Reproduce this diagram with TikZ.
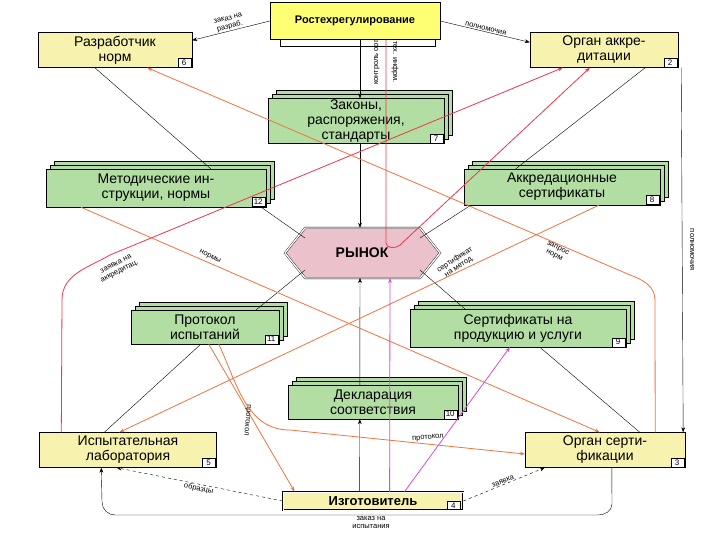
\documentclass[tikz,border=0pt]{standalone}
\usepackage{fontspec}
\setmainfont{Liberation Sans}
\usetikzlibrary{shadows,calc,arrows.meta}
\definecolor{yel}{rgb}{0.97,0.95,0.68}
\definecolor{ryel}{rgb}{1,1,0.45}
\definecolor{grn}{rgb}{0.70,0.87,0.64}
\definecolor{pnk}{rgb}{0.92,0.76,0.80}
\definecolor{org}{rgb}{0.95,0.45,0.25}
\definecolor{rd}{rgb}{0.95,0.2,0.3}
\definecolor{mag}{rgb}{0.85,0.3,0.85}
\begin{document}
\begin{tikzpicture}[x=1pt,y=-1pt,
  ybox/.style={draw, fill=yel, align=center, inner sep=1pt, font=\fontsize{14}{15}\selectfont},
  gbox/.style={draw, fill=grn, align=center, inner sep=1pt, font=\fontsize{14}{15}\selectfont,
     double copy shadow={shadow xshift=4pt, shadow yshift=4pt, fill=grn, draw}},
  tag/.style={draw, fill=white, inner sep=0.5pt, minimum width=13, minimum height=9, font=\fontsize{8}{8}\selectfont},
  lbl/.style={font=\fontsize{7.5}{8}\selectfont, inner sep=1pt, align=center},
  ar/.style={-{Stealth[length=5pt]}},
  ol/.style={draw=org, line width=0.8pt},
  rl/.style={draw=rd, line width=0.8pt},
  ml/.style={draw=mag, line width=0.8pt}]
\useasboundingbox (0,0) rectangle (720,540);
\fill[white] (0,0) rectangle (720,540);
% nodes
\draw[fill=white] (280,10) rectangle (435,46);
\node[draw, fill=ryel, minimum width=170, minimum height=37, font=\bfseries\fontsize{11}{12}\selectfont] (rost) at (355,21) {Ростехрегулирование};
\node[ybox, minimum width=154, minimum height=35] (razr) at (115,50) {Разработчик\\норм};
\node[ybox, minimum width=148, minimum height=35] (akkr) at (604,50) {Орган аккре-\\дитации};
\node[gbox, minimum width=176, minimum height=44] (zak) at (356,121) {Законы,\\распоряжения,\\стандарты};
\node[gbox, minimum width=220, minimum height=38] (met) at (156,188) {Методические ин-\\струкции, нормы};
\node[gbox, minimum width=196, minimum height=36] (acert) at (562,187) {Аккредационные\\сертификаты};
\node[minimum width=155, minimum height=50] (ryn) at (362,253) {};
\draw[double, double distance=1.2pt, fill=pnk] (285,253) -- (305,228) -- (420,228) -- (440,253) -- (420,278) -- (305,278) -- cycle;
\node[font=\bfseries\fontsize{14}{14}\selectfont] at (362,253) {РЫНОК};
\node[gbox, minimum width=148, minimum height=34] (prot) at (205,327) {Протокол\\испытаний};
\node[gbox, minimum width=216, minimum height=38] (sprod) at (518,328) {Сертификаты на\\продукцию и услуги};
\node[gbox, minimum width=170, minimum height=34] (decl) at (373,402) {Декларация\\соответствия};
\node[ybox, minimum width=177, minimum height=35] (lab) at (128,450) {Испытательная\\лаборатория};
\node[ybox, minimum width=160, minimum height=35] (osert) at (605,450) {Орган серти-\\фикации};
\node[draw, fill=yel, double, line width=0.8pt, minimum width=180, minimum height=18, inner sep=1pt, font=\bfseries\fontsize{13}{13}\selectfont] (izg) at (373,501) {Изготовитель\hspace{16pt}};
% tags
\node[tag] at ($(razr.south east)+(-8,-5)$) {6};
\node[tag] at ($(akkr.south east)+(-8,-5)$) {2};
\node[tag] at ($(zak.south east)+(-8,-5)$) {7};
\node[tag] at ($(met.south east)+(-8,-5)$) {12};
\node[tag] at ($(acert.south east)+(-8,-5)$) {8};
\node[tag] at ($(prot.south east)+(-8,-5)$) {11};
\node[tag] at ($(sprod.south east)+(-8,-5)$) {9};
\node[tag] at ($(decl.south east)+(-8,-5)$) {10};
\node[tag] at ($(lab.south east)+(-8,-5)$) {5};
\node[tag] at ($(osert.south east)+(-8,-5)$) {3};
\node[tag, minimum height=8] at ($(izg.south east)+(-10,-5)$) {4};
% black connectors
\draw[ar] (rost.west) -- node[lbl, sloped, above] {заказ на\\разраб.} ($(razr.north east)+(0,8)$);
\draw[ar] (rost.east) -- node[lbl, sloped, above] {полномочия} ($(akkr.north west)+(0,10)$);
\draw[ar] (rost.south) ++(5,0) coordinate (rs) -- (rs |- zak.north);
\draw[ar] (zak.south) ++(4,0) coordinate (zs) -- (zs |- ryn.north);
\draw ($(razr.south west)+(57,0)$) -- ($(met.north west)+(165,0)$);
\draw ($(met.south east)+(-5,0)$) -- (305,238);
\draw ($(akkr.south east)+(-33,0)$) -- ($(acert.north west)+(52,0)$);
\draw ($(acert.south west)+(7,0)$) -- (420,238);
\draw[ar] ($(akkr.south east)+(3,0)$) -- ($(osert.north east)+(-2,0)$);
\node[lbl, rotate=-90] at (692,250) {полномочия};
\draw (305,270) -- ($(prot.north east)+(-23,0)$);
\draw (420,270) -- ($(sprod.north west)+(55,0)$);
\draw ($(prot.south west)+(70,0)$) -- ($(lab.north west)+(65,0)$);
\draw ($(sprod.south west)+(130,0)$) -- ($(osert.north west)+(115,0)$);
\draw[ar] ($(izg.north west)+(77,0)$) -- ($(decl.south west)+(72,0)$);
\draw[ar] ($(decl.north west)+(72,0)$) -- (360,278);
\draw[ar, dashed] (izg.west) -- node[lbl, sloped, below] {образцы} ($(lab.south east)+(-100,0)$);
\draw[ar, dashed] (izg.east) -- node[lbl, sloped, above] {заявка} ($(osert.south west)+(20,0)$);
\draw[ar] ($(osert.south west)+(87,0)$) -- (612,504) to[out=-90,in=0] (598,515) -- node[lbl, below, pos=0.47] {заказ на\\испытания} (115,515) to[out=180,in=-90] (102,502) -- ($(lab.south west)+(62,0)$);
% red lines
\draw[rl, ar] (386,40) -- (386,243) to[out=-90,in=-135] (400,245) -- ($(akkr.south west)+(60,0)$);
\node[lbl, rotate=90] at (377,62) {контроль орг.};
\node[lbl, rotate=-90] at (395,62) {тех. инфрм.};
\draw[rl, ar] ($(lab.north west)+(22,0)$) -- (62,300) to[out=90,in=-150] (110,255) -- ($(akkr.south west)+(33,0)$);
\node[lbl, rotate=27] at (118,268) {заявка на\\аккредитац.};
% orange lines
\draw[ol, ar] ($(osert.north east)+(-30,0)$) -- (655,300) to[out=90,in=-20] (630,275) -- ($(razr.south east)+(-45,0)$);
\node[lbl, rotate=-27] at (556,252) {запрос\\норм};
\draw[ol, ar] ($(met.south west)+(35,0)$) -- ($(osert.north west)+(75,0)$);
\node[lbl, rotate=-27] at (210,257) {нормы};
\draw[ol, ar] ($(acert.south west)+(135,0)$) -- ($(lab.north west)+(80,0)$);
\node[lbl, rotate=33] at (457,263) {сертификат\\на метод.};
\draw[ol, ar] ($(prot.south west)+(78,0)$) -- ($(izg.north west)+(12,0)$);
\node[lbl, rotate=-95] at (247,420) {протокол};
\draw[ol, ar] ($(prot.south west)+(88,0)$) to[out=-65,in=180] (290,430) -- ($(osert.west)+(0,4)$);
\node[lbl, rotate=5] at (428,438) {протокол};
% magenta
\draw[ml, ar] ($(izg.north west)+(107,0)$) -- (390,278);
\draw[ml, ar] ($(izg.north west)+(122,0)$) -- ($(sprod.south west)+(100,0)$);
\end{tikzpicture}
\end{document}
